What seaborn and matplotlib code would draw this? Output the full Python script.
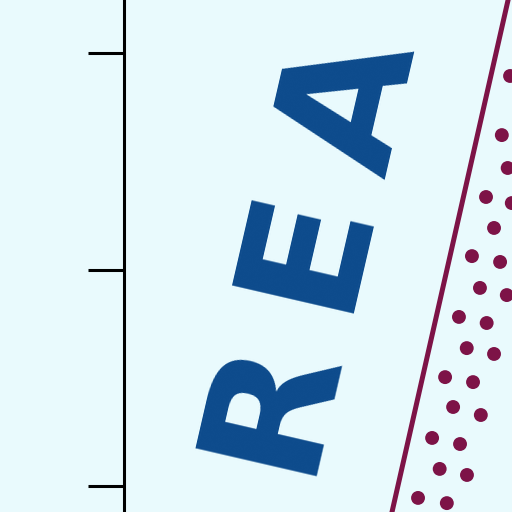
import pandas as pd
import seaborn as sns
import matplotlib.pyplot as plt

ticks_y = [0, 1, 2]

linea_x = [1.197, 1.809]
linea_y = [-0.30, 2.40]

puntos_x = [1.783, 1.745, 1.772, 1.672, 1.791, 1.709, 1.607, 1.737, 1.644, 1.768,
            1.547, 1.675, 1.583, 1.709, 1.483, 1.612, 1.520, 1.648, 1.423, 1.552,
            1.458, 1.584, 1.358, 1.491]
puntos_y = [1.894, 1.621, 1.469, 1.335, 1.307, 1.192, 1.062, 1.035, 0.915, 0.882,
            0.781, 0.753, 0.637, 0.610, 0.503, 0.480, 0.365, 0.328, 0.222, 0.194,
            0.079, 0.051, -0.055, -0.079]

# letras separadas con espacio fino, como en el original
texto = '\u2009'.join('AREA')

fondo = '#e9fafd'
azul = '#0c4a8c'
granate = '#7d1347'

sns.set_style('white', {'axes.facecolor': fondo, 'figure.facecolor': fondo})

fig = plt.figure(figsize=(5.12, 5.12), dpi=100)
ax = fig.add_axes([124 / 512, 0, 388 / 512, 1])

linea = pd.DataFrame({'x': linea_x, 'y': linea_y})
sns.lineplot(x='x', y='y', data=linea, color=granate, linewidth=3.6, sort=False, ax=ax)

puntos = pd.DataFrame({'x': puntos_x, 'y': puntos_y})
sns.scatterplot(x='x', y='y', data=puntos, color=granate, s=100, edgecolor='none', ax=ax)

ax.text(1.344, 2.014, texto, rotation=77, rotation_mode='anchor', ha='right', va='baseline',
        fontsize=124, fontweight='bold', family='DejaVu Sans', color=azul)

ax.set_xlim(0, 1.792)
ax.set_ylim(-0.120, 2.245)
ax.set_yticks(ticks_y)
ax.set_yticklabels([])
ax.set_xticks([])
ax.set_xlabel('')
ax.set_ylabel('')
for lado in ['top', 'right', 'bottom']:
    ax.spines[lado].set_visible(False)
ax.spines['left'].set_color('black')
ax.spines['left'].set_linewidth(2.2)
ax.tick_params(axis='y', direction='out', length=26, width=2.2, color='black', left=True)

plt.savefig('out.png', dpi=100, facecolor=fondo)
